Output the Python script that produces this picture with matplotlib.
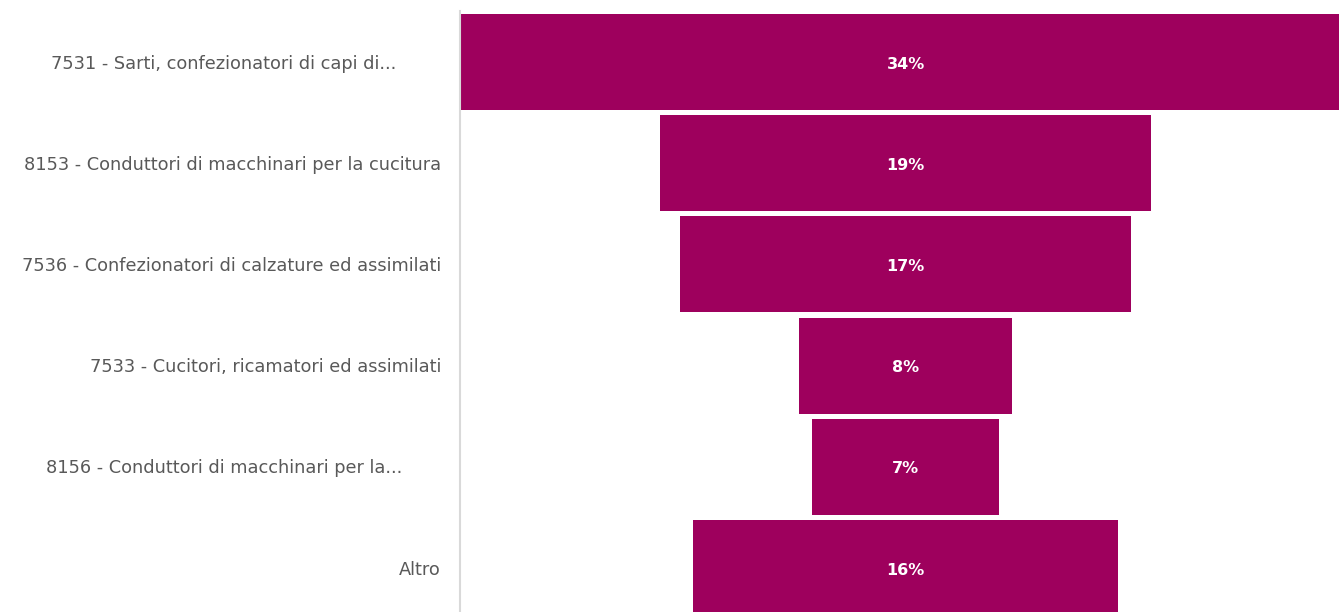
import matplotlib
matplotlib.use("Agg")
import matplotlib.pyplot as plt

# Occupations and their share
categories = [
    "7531 - Sarti, confezionatori di capi di...",
    "8153 - Conduttori di macchinari per la cucitura",
    "7536 - Confezionatori di calzature ed assimilati",
    "7533 - Cucitori, ricamatori ed assimilati",
    "8156 - Conduttori di macchinari per la...",
    "Altro",
]
shares = [34.4, 19.04, 17.45, 8.27, 7.23, 16.44]

BAR = "#9E005D"
TEXT = "#595959"
W, H = 1339, 612

plt.rcParams["font.family"] = ["DejaVu Sans"]

fig = plt.figure(figsize=(W / 100, H / 100), dpi=100)
fig.patch.set_facecolor("white")

# plot area in pixels (bottom band runs past the lower edge)
left_px, right_px = 460, 1339
top_px, bottom_px = 11.4, 618.8
ax = fig.add_axes([left_px / W, 1 - bottom_px / H,
                   (right_px - left_px) / W, (bottom_px - top_px) / H])

n = len(categories)
ypos = list(range(n))
ax.barh(ypos, shares, left=[-s / 2 for s in shares], height=0.948,
        color=BAR, edgecolor="none")

scale = 25.84  # pixels per percentage point
center_px = 905.5
ax.set_xlim(-(center_px - left_px) / scale, (right_px - center_px) / scale)
ax.set_ylim(n - 0.5, -0.5)

for y, s in zip(ypos, shares):
    ax.text(0, y + 0.02, f"{s:.0f}%", ha="center", va="center", color="white",
            fontsize=11.5, fontweight="bold")

# category labels: full names right-aligned against the axis,
# shortened ones centred in the label column
for y, lab in zip(ypos, categories):
    yf = 1 - (top_px + (y + 0.515) * (bottom_px - top_px) / n) / H
    if lab.endswith("..."):
        fig.text(224 / W, yf, lab, ha="center", va="center",
                 color=TEXT, fontsize=12.8)
    else:
        fig.text(441 / W, yf, lab, ha="right", va="center",
                 color=TEXT, fontsize=12.8)

ax.set_xticks([])
ax.set_yticks([])
for side in ("top", "right", "bottom"):
    ax.spines[side].set_visible(False)
ax.spines["left"].set_color("#D9D9D9")
ax.spines["left"].set_linewidth(1.5)

fig.savefig("out.png", dpi=100, facecolor="white")
